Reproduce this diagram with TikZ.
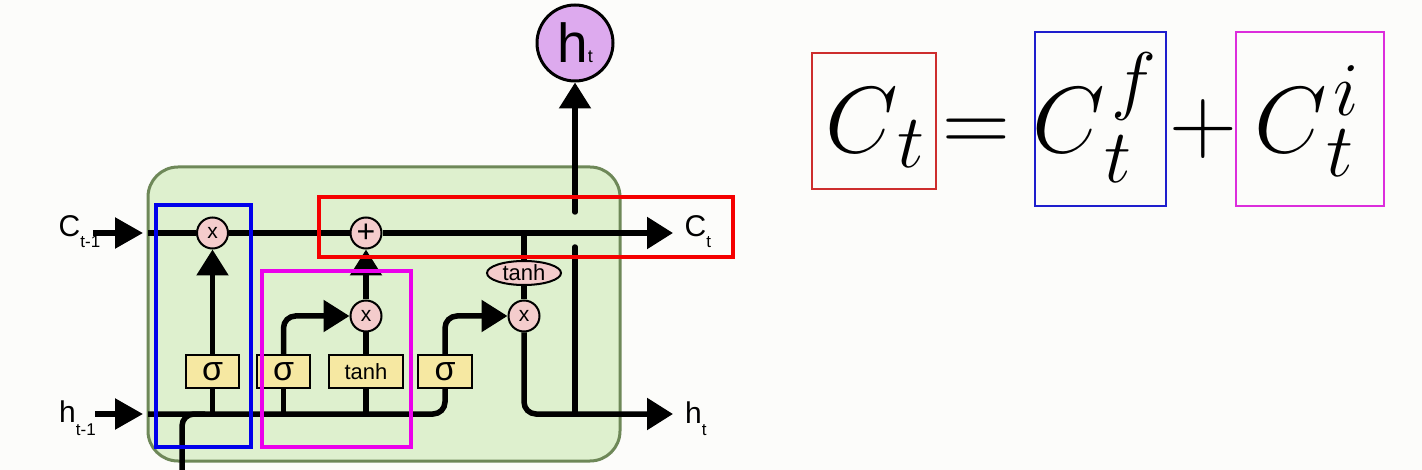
\RequirePackage{fix-cm}
\documentclass[tikz,border=0pt]{standalone}
\usepackage{exscale}
\usepackage[no-math]{fontspec}
\newfontfamily\lsans{Liberation Sans}
\usetikzlibrary{arrows.meta,shapes.geometric}
\DeclareMathSizes{94}{94}{76}{60}
\definecolor{bgc}{RGB}{252,252,250}
\definecolor{cellfill}{RGB}{222,240,206}
\definecolor{cellline}{RGB}{110,136,88}
\definecolor{pinkg}{RGB}{244,204,204}
\definecolor{yel}{RGB}{246,232,162}
\definecolor{purp}{RGB}{221,170,238}
\definecolor{rbox}{RGB}{245,0,0}
\definecolor{bbox}{RGB}{0,0,235}
\definecolor{mbox}{RGB}{235,0,235}
\definecolor{rthin}{RGB}{205,45,45}
\definecolor{bthin}{RGB}{30,30,205}
\definecolor{mthin}{RGB}{220,45,220}
\newcommand\fsz[1]{\fontsize{#1}{#1}\selectfont}
% C with superscript #1 raised #2 and subscript #3 lowered #4
\newcommand\Csupsub[4]{C\rlap{\kern7pt\raisebox{#2}{$\scriptstyle #1$}}\raisebox{-#4}{$\scriptstyle #3$}}
\tikzset{
  ln/.style={line width=5.5pt, black},
  arr/.style={-{Triangle[length=26pt,width=31pt]}},
  inarr/.style={-{Triangle[length=28pt,width=30pt]}},
  gatec/.style={circle, fill=pinkg, draw=black, line width=2pt, minimum size=31pt, inner sep=0pt, font=\lsans\fsz{21}},
  layerbox/.style={rectangle, fill=yel, draw=black, line width=2pt, minimum height=33pt, inner sep=0pt},
  lab/.style={anchor=base west, inner sep=0pt, font=\lsans\fsz{30}},
  eqn/.style={inner sep=0pt, font=\fsz{94}},
  hilite/.style={line width=4pt},
  thinbox/.style={line width=1.6pt},
}
\begin{document}
\begin{tikzpicture}[x=1pt,y=-1pt]
\fill[bgc] (0,0) rectangle (1422,470);
\useasboundingbox (0,0) rectangle (1422,470);

% cell
\draw[cellline, fill=cellfill, line width=3pt, rounded corners=30pt] (148,167) rectangle (620,461);

% nodes
\node[gatec] (fx) at (212.5,233) {x};
\node[gatec, font=\lsans\fsz{32}] (pl) at (366,233) {+};
\node[gatec] (ix) at (366,316) {x};
\node[gatec] (ox) at (524,316) {x};
\node[layerbox, minimum width=53pt, font=\lsans\fsz{34}] (s1) at (212.5,371.5) {σ};
\node[layerbox, minimum width=53pt, font=\lsans\fsz{34}] (s2) at (283.5,371.5) {σ};
\node[layerbox, minimum width=74pt, font=\lsans\fsz{22}] (tb) at (366,371.5) {tanh};
\node[layerbox, minimum width=54pt, font=\lsans\fsz{34}] (s3) at (445,371.5) {σ};
\node[ellipse, fill=pinkg, draw=black, line width=2pt, minimum width=74pt, minimum height=24pt, inner sep=0pt, font=\lsans\fsz{22}] (te) at (524,273) {tanh};
\node[circle, fill=purp, draw=black, line width=3pt, minimum size=76pt, inner sep=0pt] (ht) at (575,43) {\lsans\fsz{55}h\fsz{18}t};

% labels
\node[lab] (lcin) at (58.5,237) {C\raisebox{-11pt}{\fsz{17}t-1}};
\node[lab] (lhin) at (59,422) {h\raisebox{-13pt}{\fsz{17}t-1}};
\node[lab] (lcout) at (684.5,237) {C\raisebox{-11pt}{\fsz{17}t}};
\node[lab] (lhout) at (685,423) {h\raisebox{-12pt}{\fsz{17}t}};

% coordinates
\coordinate (cst) at (93,233);
\coordinate (ctip) at (143,233);
\coordinate (hst) at (95,414);
\coordinate (htip) at (143,414);
\coordinate (cin) at (148,233);
\coordinate (cend) at (673,233);
\coordinate (hl) at (148,414);
\coordinate (xin) at (182,475);
\coordinate (xj) at (205,414);
\coordinate (hend) at (673,414);
\coordinate (up1) at (575,414);
\coordinate (up2) at (575,247);
\coordinate (up3) at (575,212);

% inputs
\draw[ln, inarr] (cst) -- (ctip);
\draw[ln, inarr] (hst) -- (htip);

% cell state line
\draw[ln] (cin) -- (fx);
\draw[ln] (fx) -- (pl);
\draw[ln, arr] (pl) -- (cend);

% hidden input line and x_t
\draw[ln, rounded corners=12pt] (hl) -- (s3.south |- hl) -- (s3.south);
\draw[ln, rounded corners=12pt] (xin) -- (xin |- hl) -- (xj);

% gates
\draw[ln] (s1) -- (s1 |- hl);
\draw[ln, arr] (s1) -- (fx);
\draw[ln] (s2) -- (s2 |- hl);
\draw[ln, arr, rounded corners=12pt] (s2.north) -- (s2.north |- ix) -- (ix);
\draw[ln] (tb) -- (tb |- hl);
\draw[ln] (tb) -- (ix);
\draw[ln, arr] (ix) -- (pl);
\draw[ln, arr, rounded corners=12pt] (s3.north) -- (s3.north |- ox) -- (ox);

% output
\draw[ln] (te |- cin) -- (te);
\draw[ln] (te) -- (ox);
\draw[ln, arr, rounded corners=12pt] (ox) -- (ox |- hend) -- (hend);
\draw[ln, line cap=round] (up1) -- (up2);
\draw[ln, arr, line cap=round] (up3) -- (ht);

% highlight boxes
\draw[bbox, hilite] (156,205) rectangle (251,447);
\draw[mbox, hilite] (262,271) rectangle (411,447);
\draw[rbox, hilite] (319,197) rectangle (733,257);

% equation
\node[eqn, anchor=base west] (e1) at (825,153) {$C\raisebox{-15pt}{$\scriptstyle t$}$};
\node[eqn, anchor=base] (eq) at (976,153) {$=$};
\node[eqn, anchor=base west] (e2) at (1032,153) {$\Csupsub{f}{47pt}{t}{30pt}$};
\node[eqn, anchor=base] (pp) at (1203,153) {$+$};
\node[eqn, anchor=base west] (e3) at (1254,153) {$\Csupsub{i}{37pt}{t}{24pt}$};
\draw[rthin, thinbox] (812,53) rectangle (936,189);
\draw[bthin, thinbox] (1035,32) rectangle (1166,206);
\draw[mthin, thinbox] (1236,32) rectangle (1384,206);
\end{tikzpicture}
\end{document}
